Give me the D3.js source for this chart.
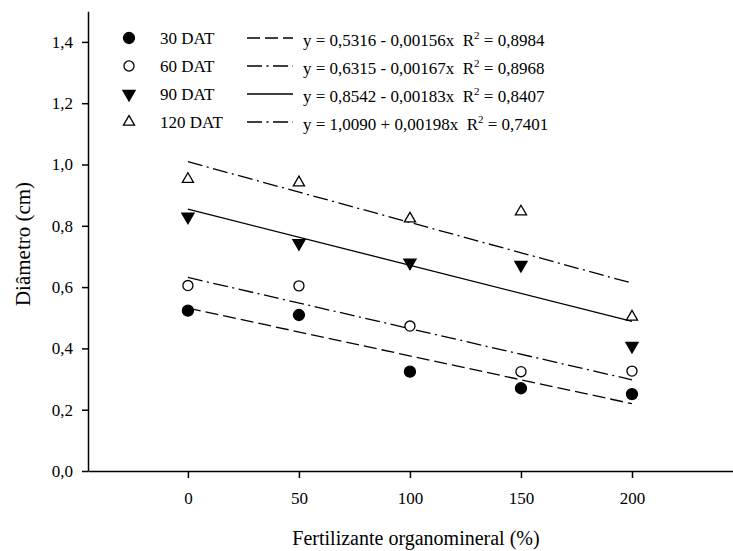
<!DOCTYPE html>
<html>
<head>
<meta charset="utf-8">
<script src="https://cdn.jsdelivr.net/npm/d3@7"></script>
<style>
  html, body { margin: 0; padding: 0; background: #fff; }
  #chart text { font-family: 'Liberation Serif', 'Times New Roman', serif !important; }
</style>
</head>
<body>
<svg id="chart" width="733" height="551" font-family="Liberation Serif"></svg>
<script>
// Doses of organomineral fertilizer (%)
const doses = [0, 50, 100, 150, 200];

// Stem diameter (cm) at each evaluation date
const series = ["30 DAT", "60 DAT", "90 DAT", "120 DAT"];
const d30  = [0.523, 0.509, 0.324, 0.270, 0.251];
const d60  = [0.605, 0.604, 0.473, 0.324, 0.326];
const d90  = [0.830, 0.743, 0.680, 0.672, 0.408];
const d120 = [0.952, 0.941, 0.823, 0.846, 0.503];

// Fitted linear models y = a + b x
const intercepts = [0.5316, 0.6315, 0.8542, 1.0090];
const slopes = [-0.00156, -0.00167, -0.00183, -0.00198];
const equations = [
  "y = 0,5316 - 0,00156x",
  "y = 0,6315 - 0,00167x",
  "y = 0,8542 - 0,00183x",
  "y = 1,0090 + 0,00198x"
];
const r2 = ["0,8984", "0,8968", "0,8407", "0,7401"];

const yTicks = [0, 0.2, 0.4, 0.6, 0.8, 1.0, 1.2, 1.4];
const xTicks = [0, 50, 100, 150, 200];

const values = [d30, d60, d90, d120];
const symbols = [
  { type: d3.symbolCircle, fill: "#000", size: 95, rot: 0 },
  { type: d3.symbolCircle, fill: "#fff", size: 80, rot: 0 },
  { type: d3.symbolTriangle, fill: "#000", size: 64, rot: 180 },
  { type: d3.symbolTriangle, fill: "#fff", size: 54, rot: 0 }
];
const dashes = ["13,5", "15,4.5,2,4.5", null, "15,4.5,2,4.5"];

const svg = d3.select("#chart");
const x = d3.scaleLinear().domain([-45, 250]).range([88, 743]);
const y = d3.scaleLinear().domain([0, 1.5]).range([471, 11.25]);
const comma = v => d3.format(".1f")(v).replace(".", ",");

// Axes
const yAxis = svg.append("g").attr("transform", `translate(${x(-45)},0)`)
  .call(d3.axisLeft(y).tickValues(yTicks).tickFormat(comma).tickSize(6).tickSizeOuter(0).tickPadding(9));
const xAxis = svg.append("g").attr("transform", `translate(0,${y(0)})`)
  .call(d3.axisBottom(x).tickValues(xTicks).tickSize(7).tickSizeOuter(0).tickPadding(14));
[yAxis, xAxis].forEach(g => {
  g.attr("font-family", null).attr("font-size", 17);
  g.selectAll("path, line").attr("stroke", "#000").attr("stroke-width", 1.5);
  g.selectAll("text").attr("fill", "#000");
});

// Axis titles
svg.append("text")
  .attr("x", 416).attr("y", 545)
  .attr("text-anchor", "middle").attr("font-size", 20)
  .text("Fertilizante organomineral (%)");
svg.append("text")
  .attr("transform", `translate(30,244) rotate(-90)`)
  .attr("text-anchor", "middle").attr("font-size", 21)
  .text("Diâmetro (cm)");

// Regression lines over the tested range
series.forEach((s, i) => {
  const fit = d3.line().x(d => x(d)).y(d => y(intercepts[i] + slopes[i] * d));
  svg.append("path")
    .attr("d", fit([doses[0], doses[doses.length - 1]]))
    .attr("fill", "none").attr("stroke", "#000").attr("stroke-width", 1.3)
    .attr("stroke-dasharray", dashes[i]);
});

// Observed means
series.forEach((s, i) => {
  const sym = symbols[i];
  svg.append("g").selectAll("path")
    .data(doses.map((d, j) => [d, values[i][j]]))
    .join("path")
    .attr("transform", d => `translate(${x(d[0])},${y(d[1])}) rotate(${sym.rot})`)
    .attr("d", d3.symbol().type(sym.type).size(sym.size))
    .attr("fill", sym.fill).attr("stroke", "#000").attr("stroke-width", 1.3);
});

// Legend
const rowsY = [38, 66, 94, 122];
series.forEach((s, i) => {
  const sym = symbols[i];
  const ry = rowsY[i];
  svg.append("path")
    .attr("transform", `translate(129,${ry}) rotate(${sym.rot})`)
    .attr("d", d3.symbol().type(sym.type).size(sym.size))
    .attr("fill", sym.fill).attr("stroke", "#000").attr("stroke-width", 1.3);
  svg.append("text").attr("x", 160).attr("y", ry + 6).attr("font-size", 17).text(s);
  svg.append("line")
    .attr("x1", 247).attr("x2", 293).attr("y1", ry).attr("y2", ry)
    .attr("stroke", "#000").attr("stroke-width", 1.3)
    .attr("stroke-dasharray", dashes[i]);
  const t = svg.append("text").attr("x", 303).attr("y", ry + 8).attr("font-size", 17)
    .attr("xml:space", "preserve");
  t.append("tspan").text(equations[i] + "  R");
  t.append("tspan").attr("font-size", 11).attr("dy", -7).text("2");
  t.append("tspan").attr("dy", 7).text(" = " + r2[i]);
});
</script>
</body>
</html>
